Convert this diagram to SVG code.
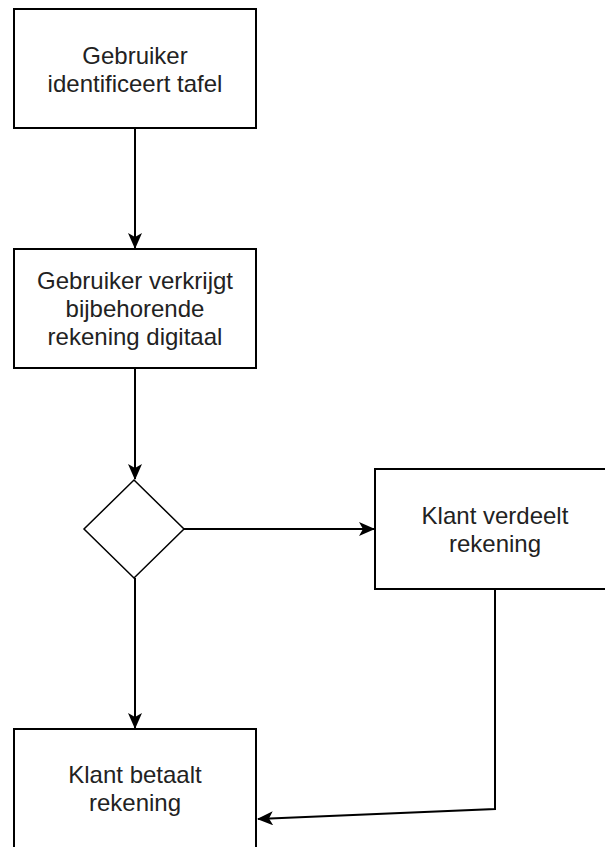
<svg xmlns="http://www.w3.org/2000/svg" width="605" height="847" viewBox="0 0 605 847">
<style>
.box{fill:#fff;stroke:#000;stroke-width:2}
.dia{fill:#fff;stroke:#000;stroke-width:1.5}
.lbl{font-family:"Liberation Sans",Arial,Helvetica,sans-serif;font-size:24px;fill:#222;text-anchor:middle}
.edge{fill:none;stroke:#000;stroke-width:2}
</style>
<defs>
<marker id="arr" viewBox="0 0 16 14" refX="15" refY="7" markerWidth="16" markerHeight="14" markerUnits="userSpaceOnUse" orient="auto">
<path d="M0,0 L16,7 L0,14 L4,7 Z" fill="#000"/>
</marker>
</defs>
<rect width="605" height="847" fill="#fff"/>
<g id="connectors">
<path class="edge" d="M135,128 L135,248" marker-end="url(#arr)"/>
<path class="edge" d="M135,368 L135,479" marker-end="url(#arr)"/>
<path class="edge" d="M184,529 L374,529" marker-end="url(#arr)"/>
<path class="edge" d="M135,578 L135,728" marker-end="url(#arr)"/>
<path class="edge" d="M495,589 L495,809 L258,819" marker-end="url(#arr)"/>
</g>
<g id="node1">
<rect class="box" x="14" y="9" width="242" height="119"/>
<text class="lbl" x="135" y="64">Gebruiker</text>
<text class="lbl" x="135" y="92">identificeert tafel</text>
</g>
<g id="node2">
<rect class="box" x="14" y="249" width="242" height="119"/>
<text class="lbl" x="135" y="289">Gebruiker verkrijgt</text>
<text class="lbl" x="135" y="317">bijbehorende</text>
<text class="lbl" x="135" y="345">rekening digitaal</text>
</g>
<g id="decision">
<path class="dia" d="M134,480 L184,529 L134,578 L84,529 Z"/>
</g>
<g id="node3">
<rect class="box" x="375" y="469" width="240" height="120"/>
<text class="lbl" x="495" y="524">Klant verdeelt</text>
<text class="lbl" x="495" y="552">rekening</text>
</g>
<g id="node4">
<rect class="box" x="14" y="729" width="242" height="120"/>
<text class="lbl" x="135" y="783">Klant betaalt</text>
<text class="lbl" x="135" y="811">rekening</text>
</g>
</svg>
